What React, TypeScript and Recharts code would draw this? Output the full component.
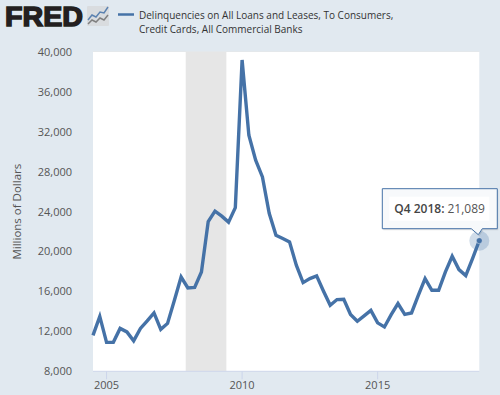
import React from "react";
import { LineChart, Line, XAxis, YAxis, CartesianGrid, ReferenceArea } from "recharts";

const years = [
  2004.5, 2004.75,
  2005, 2005.25, 2005.5, 2005.75,
  2006, 2006.25, 2006.5, 2006.75,
  2007, 2007.25, 2007.5, 2007.75,
  2008, 2008.25, 2008.5, 2008.75,
  2009, 2009.25, 2009.5, 2009.75,
  2010, 2010.25, 2010.5, 2010.75,
  2011, 2011.25, 2011.5, 2011.75,
  2012, 2012.25, 2012.5, 2012.75,
  2013, 2013.25, 2013.5, 2013.75,
  2014, 2014.25, 2014.5, 2014.75,
  2015, 2015.25, 2015.5, 2015.75,
  2016, 2016.25, 2016.5, 2016.75,
  2017, 2017.25, 2017.5, 2017.75,
  2018, 2018.25, 2018.5, 2018.75,
];
const delinquencies = [
  11600, 13500,
  10900, 10900, 12300, 11950,
  11050, 12300, 13050, 13850,
  12200, 12800, 15100, 17450,
  16350, 16400, 17950, 23000,
  24050, 23550, 22950, 24400,
  39200, 31650, 29150, 27480,
  23840, 21630, 21300, 20970,
  18630, 16890, 17290, 17560,
  16050, 14620, 15190, 15220,
  13700, 13010, 13550, 14110,
  12850, 12440, 13680, 14790,
  13710, 13850, 15620, 17290,
  16120, 16120, 17960, 19530,
  18190, 17590, 19300, 21089,
];
const yTicks = [8000, 12000, 16000, 20000, 24000, 28000, 32000, 36000, 40000];
const xTicks = [2005, 2010, 2015];
const recession = [2007.92, 2009.42];
const legendLines = [
  "Delinquencies on All Loans and Leases, To Consumers,",
  "Credit Cards, All Commercial Banks",
];
const yLabel = "Millions of Dollars";
const tipPeriod = "Q4 2018:";
const tipValue = "21,089";

const data = years.map((x, i) => ({ x, v: delinquencies[i] }));
const FONT = "'Open Sans', sans-serif";
const BLUE = "#4572a7";

function renderDot(props: any) {
  const { cx, cy, index } = props;
  if (index !== data.length - 1) return <g key={index} />;
  const l = cx - 97, r = cx + 18, t = cy - 52, b = cy - 12;
  const box = `M${l} ${t}H${r}V${b}H${cx + 3}L${cx - 1} ${cy - 6}L${cx - 8} ${b}H${l}Z`;
  return (
    <g key={index}>
      <circle cx={cx} cy={cy} r={10} fill={BLUE} fillOpacity={0.25} />
      <circle cx={cx} cy={cy} r={3} fill={BLUE} stroke="#fff" strokeOpacity={0.4} strokeWidth={1} />
      <path d={box} fill="#000" fillOpacity={0.1} transform="translate(1 1.5)" />
      <path d={box} fill="#f7f9fb" stroke={BLUE} strokeWidth={1} />
      <rect x={l + 7} y={t + 8} width={100} height={24} fill="#fff" />
      <text x={l + 12} y={t + 24} fontFamily={FONT} fontSize={12} fill="#555">
        <tspan fontWeight={600} fill="#444">{tipPeriod}</tspan>
        <tspan dx={3}>{tipValue}</tspan>
      </text>
    </g>
  );
}

export default function App() {
  return (
    <div style={{ position: "absolute", left: 0, top: 0, width: 500, height: 395, background: "#e1e9f0", overflow: "hidden" }}>
      <svg width={500} height={50} style={{ position: "absolute", left: 0, top: 0 }}>
        <text x={5} y={26} fontFamily="'Liberation Sans', sans-serif" fontWeight={700} fontSize={28} textLength={78} lengthAdjust="spacingAndGlyphs" fill="#231f20" stroke="#231f20" strokeWidth={1.5}>FRED</text>
        <rect x={87} y={6} width={22} height={20} fill="#d9dcdf" rx={1} />
        <polyline points="88,20 92,15 96,17 100,12 104,13 108,7" fill="none" stroke="#5c82b0" strokeWidth={1.5} />
        <polyline points="88,24 92,20 96,22 100,18 104,20 108,15" fill="none" stroke="#808080" strokeWidth={1.5} />
        <line x1={118} x2={134} y1={14.5} y2={14.5} stroke={BLUE} strokeWidth={2.5} />
        {legendLines.map((s, i) => (
          <text key={i} x={139} y={19 + i * 14} fontFamily={FONT} fontSize={10} fill="#333">{s}</text>
        ))}
      </svg>
      <LineChart
        width={500}
        height={395}
        data={data}
        margin={{ top: 52, right: 20.7, bottom: 0, left: 0 }}
        style={{ position: "absolute", left: 0, top: 0 }}
      >
        <rect x={93} y={52} width={386.3} height={319.3} fill="#fff" />
        <CartesianGrid vertical={false} stroke="#e6e6e6" strokeWidth={1} />
        <ReferenceArea x1={recession[0]} x2={recession[1]} fill="#e6e6e6" fillOpacity={1} stroke="none" />
        <XAxis
          dataKey="x"
          type="number"
          domain={[2004.5, 2018.75]}
          ticks={xTicks}
          height={23.7}
          tickSize={8}
          axisLine={{ stroke: "#ccd6eb" }}
          tickLine={{ stroke: "#ccd6eb" }}
          tick={{ fill: "#555", fontSize: 11, fontFamily: FONT }}
          tickFormatter={(v: number) => String(v)}
          interval={0}
        />
        <YAxis
          type="number"
          domain={[8000, 40000]}
          ticks={yTicks}
          width={93}
          axisLine={false}
          tickLine={false}
          tickMargin={15}
          tick={{ fill: "#555", fontSize: 11, fontFamily: FONT }}
          tickFormatter={(v: number) => v.toLocaleString("en-US")}
          interval={0}
          label={{ value: yLabel, angle: -90, position: "insideLeft", offset: 17, style: { fill: "#555", fontSize: 11.5, fontFamily: FONT, textAnchor: "middle" } }}
        />
        <Line
          type="linear"
          dataKey="v"
          stroke={BLUE}
          strokeWidth={3.4}
          isAnimationActive={false}
          dot={renderDot}
          activeDot={false}
        />
      </LineChart>
    </div>
  );
}
